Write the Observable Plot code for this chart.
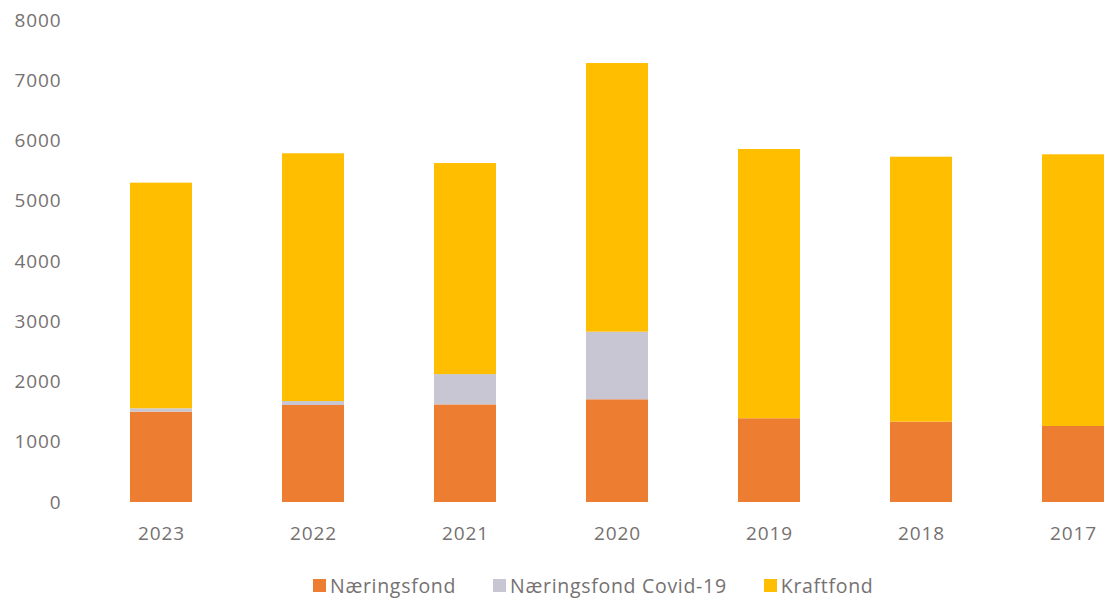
<!DOCTYPE html>
<html>
<head>
<meta charset="utf-8">
<script src="https://cdn.jsdelivr.net/npm/d3@7"></script>
<script src="https://cdn.jsdelivr.net/npm/@observablehq/plot@0.6"></script>
<style>
  body { margin: 0; background: #fff; font-family: "Open Sans", sans-serif; }
  #chart { width: 1106px; }
  .legend { display: flex; justify-content: flex-start; align-items: center; gap: 37px; margin-top: 12px; padding-left: 313px; color: #767171; font-size: 19.5px; letter-spacing: 0.7px; }
  .legend span.item { display: flex; align-items: center; }
  .legend span.sw { display: inline-block; width: 13px; height: 13px; margin-right: 4px; }
</style>
</head>
<body>
<div id="chart"></div>
<script>
const years = ["2023", "2022", "2021", "2020", "2019", "2018", "2017"];
const naeringsfond = [1500, 1610, 1620, 1705, 1390, 1333, 1262];
const covid = [55, 66, 503, 1122, 0, 0, 0];
const kraftfond = [3745, 4112, 3503, 4459, 4469, 4398, 4509];
const seriesNames = ["Næringsfond", "Næringsfond Covid-19", "Kraftfond"];
const seriesColors = ["#ED7D31", "#C8C6D2", "#FFBE00"];
const yTicks = [0, 1000, 2000, 3000, 4000, 5000, 6000, 7000, 8000];

const rows = [];
years.forEach((y, i) => {
  rows.push({year: y, series: seriesNames[0], value: naeringsfond[i]});
  rows.push({year: y, series: seriesNames[1], value: covid[i]});
  rows.push({year: y, series: seriesNames[2], value: kraftfond[i]});
});

const plot = Plot.plot({
  width: 1106,
  height: 560,
  marginLeft: 129,
  marginRight: 1,
  marginTop: 20,
  marginBottom: 58,
  style: { fontFamily: "Open Sans, sans-serif", fontSize: "19px", color: "#767171", letterSpacing: "0.9px" },
  x: { domain: years, paddingInner: 0.593, paddingOuter: 0, label: null, tickSize: 0, tickPadding: 24 },
  y: { domain: [0, 8000], ticks: yTicks, tickFormat: d3.format("d"), label: null, tickSize: 0, tickPadding: 68 },
  color: { domain: seriesNames, range: seriesColors },
  marks: [
    Plot.barY(rows, Plot.stackY({x: "year", y: "value", fill: "series", order: seriesNames}))
  ]
});
document.getElementById("chart").appendChild(plot);

const legend = document.createElement("div");
legend.className = "legend";
seriesNames.forEach((n, i) => {
  const item = document.createElement("span");
  item.className = "item";
  const sw = document.createElement("span");
  sw.className = "sw";
  sw.style.background = seriesColors[i];
  item.appendChild(sw);
  item.appendChild(document.createTextNode(n));
  legend.appendChild(item);
});
document.getElementById("chart").appendChild(legend);
</script>
</body>
</html>
